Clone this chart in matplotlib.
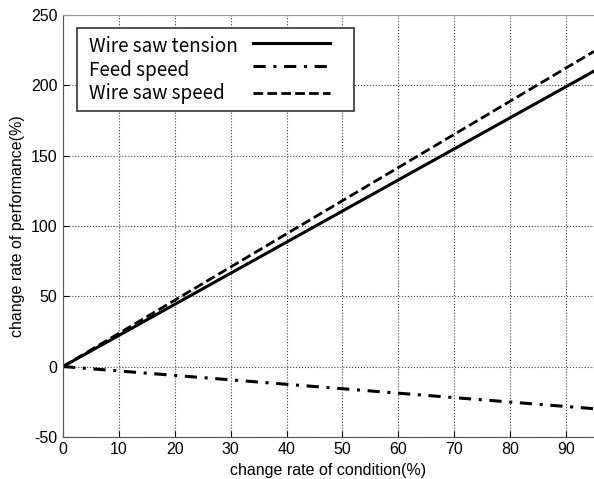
import numpy as np
import matplotlib.pyplot as plt
from matplotlib.patches import Rectangle

# DATA
x_pts = [0, 95]
tension = [0, 210]
feed = [0, -30]
saw_speed = [0, 224]

x_ticks = [0, 10, 20, 30, 40, 50, 60, 70, 80, 90]
y_ticks = [-50, 0, 50, 100, 150, 200, 250]

plt.rcParams['font.family'] = ['Liberation Sans', 'DejaVu Sans']
plt.rcParams['axes.unicode_minus'] = False

fig = plt.figure(figsize=(5.94, 4.79), dpi=100)
ax = fig.add_axes([0.106, 0.088, 0.894, 0.881])

DASHDOT = (4, 2.5, 1, 2.5)
DASHED = (3.5, 1.5)

series = [
    ('Wire saw tension', tension, None, 2.2),
    ('Feed speed', feed, DASHDOT, 2.2),
    ('Wire saw speed', saw_speed, DASHED, 2.0),
]

for name, ys, dash, lw in series:
    ln, = ax.plot(x_pts, ys, color='black', linewidth=lw)
    if dash:
        ln.set_dashes(dash)

ax.set_xlim(0, 95)
ax.set_ylim(-50, 250)
ax.set_xticks(x_ticks)
ax.set_yticks(y_ticks)
ax.tick_params(direction='in', labelsize=11.5, length=4, pad=4)
ax.grid(True, linestyle=':', color='#444444', linewidth=0.8)

ax.set_xlabel('change rate of condition(%)', fontsize=11.5, labelpad=4)
ax.set_ylabel('change rate of performance(%)', fontsize=11.5, labelpad=4)

ax.spines['top'].set_color('#999999')
ax.spines['right'].set_visible(False)
ax.spines['left'].set_color('#555555')
ax.spines['bottom'].set_color('#555555')

# legend drawn by hand: text on the left, line samples on the right
ax.add_patch(Rectangle((0.026, 0.7725), 0.522, 0.1965, transform=ax.transAxes,
                       facecolor='white', edgecolor='#333333', linewidth=1.2, zorder=5))
text_y = [0.911, 0.855, 0.800]
line_y = [0.9336, 0.879, 0.815]
for (name, ys, dash, lw), ty, ly in zip(series, text_y, line_y):
    ax.text(0.049, ty, name, transform=ax.transAxes, fontsize=13.6, va='baseline',
            family=['Noto Sans CJK KR', 'DejaVu Sans'], zorder=6)
    ln, = ax.plot([0.358, 0.503], [ly, ly], transform=ax.transAxes, color='black',
                  linewidth=lw, zorder=6)
    if dash:
        ln.set_dashes(dash)

plt.savefig('out.png', dpi=100)
